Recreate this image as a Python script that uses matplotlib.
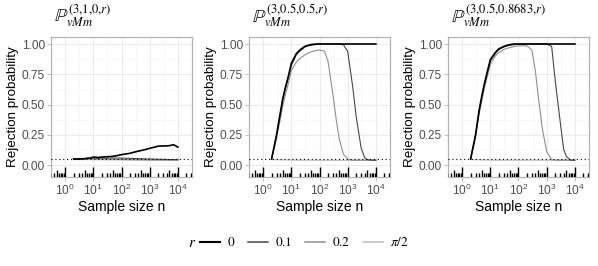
"""
Rejection probability curves for three vMm alternatives, ggplot light style.
"""

import matplotlib

matplotlib.use("Agg")
import matplotlib.pyplot as plt  # noqa: E402
from matplotlib.lines import Line2D  # noqa: E402

plt.rcParams["font.family"] = ["Liberation Sans", "DejaVu Sans"]
plt.rcParams["mathtext.fontset"] = "stix"

# sample sizes on the curves
N = [2, 3, 4, 5, 6, 8, 10, 15, 20, 30, 40, 50, 70, 100, 150, 200, 300, 400,
     500, 700, 1000, 1500, 2000, 3000, 4000, 5000, 7000, 10000]

R_LABELS = ["$0$", "$0.1$", "$0.2$", r"$\pi/2$"]
R_COLORS = ["#000000", "#474747", "#8f8f8f", "#bdbdbd"]
R_WIDTHS = [1.2, 0.8, 0.8, 0.8]

TITLES = [
    r"$\mathbb{P}^{(3{,}1{,}0{,}r)}_{vMm}$",
    r"$\mathbb{P}^{(3{,}0.5{,}0.5{,}r)}_{vMm}$",
    r"$\mathbb{P}^{(3{,}0.5{,}0.8683{,}r)}_{vMm}$",
]

# panel 1: (3,1,0,r)
p1_r0 = [0.050, 0.050, 0.051, 0.053, 0.056, 0.058, 0.066, 0.062, 0.066, 0.068,
         0.070, 0.072, 0.078, 0.086, 0.092, 0.097, 0.108, 0.115, 0.120, 0.128,
         0.138, 0.148, 0.156, 0.158, 0.158, 0.160, 0.168, 0.148]
p1_r01 = [0.050, 0.050, 0.052, 0.053, 0.055, 0.054, 0.058, 0.055, 0.057, 0.056,
          0.058, 0.057, 0.058, 0.057, 0.056, 0.055, 0.054, 0.053, 0.052, 0.051,
          0.050, 0.049, 0.048, 0.047, 0.046, 0.045, 0.045, 0.045]
p1_r02 = [0.048, 0.048, 0.049, 0.050, 0.049, 0.050, 0.050, 0.049, 0.048, 0.048,
          0.047, 0.047, 0.046, 0.046, 0.045, 0.045, 0.044, 0.044, 0.043, 0.043,
          0.042, 0.042, 0.042, 0.041, 0.041, 0.041, 0.041, 0.041]
p1_rpi = [0.045, 0.046, 0.045, 0.046, 0.045, 0.045, 0.044, 0.044, 0.044, 0.043,
          0.043, 0.043, 0.042, 0.042, 0.042, 0.041, 0.041, 0.041, 0.040, 0.040,
          0.040, 0.040, 0.040, 0.040, 0.040, 0.040, 0.040, 0.040]

# panel 2: (3,0.5,0.5,r)
p2_r0 = [0.05, 0.25, 0.42, 0.55, 0.63, 0.74, 0.84, 0.92, 0.95, 0.98, 0.99,
         0.995, 1.0, 1.0, 1.0, 1.0, 1.0, 1.0, 1.0, 1.0, 1.0, 1.0, 1.0, 1.0,
         1.0, 1.0, 1.0, 1.0]
p2_r01 = [0.05, 0.24, 0.41, 0.54, 0.62, 0.73, 0.82, 0.91, 0.94, 0.975, 0.985,
          0.99, 0.995, 1.0, 1.0, 1.0, 1.0, 1.0, 1.0, 0.995, 0.94, 0.65, 0.40,
          0.14, 0.06, 0.045, 0.04, 0.04]
p2_r02 = [0.05, 0.22, 0.37, 0.49, 0.57, 0.68, 0.78, 0.85, 0.88, 0.91, 0.925,
          0.935, 0.945, 0.95, 0.94, 0.86, 0.58, 0.36, 0.22, 0.09, 0.05, 0.04,
          0.04, 0.04, 0.04, 0.04, 0.04, 0.04]
p2_rpi = [0.045, 0.044, 0.043, 0.043, 0.042, 0.042, 0.041, 0.041, 0.040, 0.040,
          0.040, 0.040, 0.040, 0.039, 0.039, 0.039, 0.039, 0.039, 0.039, 0.039,
          0.039, 0.039, 0.039, 0.039, 0.039, 0.039, 0.039, 0.039]

# panel 3: (3,0.5,0.8683,r)
p3_r0 = [0.05, 0.25, 0.45, 0.57, 0.66, 0.78, 0.87, 0.93, 0.96, 0.98, 0.99,
         0.995, 1.0, 1.0, 1.0, 1.0, 1.0, 1.0, 1.0, 1.0, 1.0, 1.0, 1.0, 1.0,
         1.0, 1.0, 1.0, 1.0]
p3_r01 = [0.05, 0.24, 0.44, 0.56, 0.65, 0.77, 0.86, 0.92, 0.955, 0.975, 0.985,
          0.99, 0.995, 1.0, 1.0, 1.0, 1.0, 1.0, 1.0, 1.0, 1.0, 0.98, 0.70,
          0.36, 0.13, 0.07, 0.04, 0.04]
p3_r02 = [0.05, 0.23, 0.42, 0.53, 0.62, 0.74, 0.83, 0.90, 0.93, 0.955, 0.965,
          0.97, 0.98, 0.985, 0.985, 0.985, 0.95, 0.77, 0.57, 0.30, 0.11, 0.045,
          0.04, 0.04, 0.04, 0.04, 0.04, 0.04]
p3_rpi = [0.045, 0.044, 0.043, 0.042, 0.042, 0.041, 0.041, 0.040, 0.040, 0.040,
          0.040, 0.040, 0.040, 0.040, 0.040, 0.040, 0.040, 0.040, 0.040, 0.040,
          0.040, 0.040, 0.040, 0.040, 0.040, 0.040, 0.040, 0.040]

PANELS = [
    [p1_r0, p1_r01, p1_r02, p1_rpi],
    [p2_r0, p2_r01, p2_r02, p2_rpi],
    [p3_r0, p3_r01, p3_r02, p3_rpi],
]

ALPHA_LEVEL = 0.05
Y_TICKS = [0.0, 0.25, 0.5, 0.75, 1.0]
X_TICKS = [1, 10, 100, 1000, 10000]

GRID = "#ebebeb"
BORDER = "#b3b3b3"
TEXT = "#4d4d4d"


def _logticks(ax):
    # annotation_logticks-like marks along the bottom edge
    trans = ax.get_xaxis_transform()
    for dec in range(-1, 5):
        for k in range(1, 10):
            x = k * 10.0 ** dec
            if k == 1:
                h = 0.075
            elif k == 5:
                h = 0.05
            else:
                h = 0.028
            ax.plot([x, x], [0, h], transform=trans, color="black",
                    lw=1.0, solid_capstyle="butt", clip_on=True, zorder=4)


def _style(ax):
    ax.set_xscale("log")
    ax.set_xlim(10 ** -0.2, 10 ** 4.2)
    ax.set_ylim(-0.099, 1.058)
    ax.set_yticks(Y_TICKS, ["0.00", "0.25", "0.50", "0.75", "1.00"])
    ax.set_xticks(X_TICKS)
    ax.set_xticks([10 ** (d + 0.5) for d in range(-1, 5)], minor=True)
    ax.set_yticks([0.125, 0.375, 0.625, 0.875], minor=True)
    ax.tick_params(which="minor", length=0)
    ax.tick_params(which="major", length=3, width=0.6, color=BORDER,
                   labelsize=8.6, labelcolor=TEXT, pad=1.5)
    ax.grid(which="major", color=GRID, lw=0.8)
    ax.grid(which="minor", color="#f5f5f5", lw=0.5)
    ax.set_axisbelow(True)
    for sp in ax.spines.values():
        sp.set_color(BORDER)
        sp.set_linewidth(0.9)
    ax.set_xlabel("Sample size n", fontsize=10, labelpad=1)
    ax.set_ylabel("Rejection probability", fontsize=9.6, labelpad=2)


def main():
    fig = plt.figure(figsize=(5.98, 2.66), dpi=100)
    lefts = [51 / 598, 249 / 598, 448 / 598]
    width = 141 / 598
    bottom = (266 - 177) / 266
    height = 140 / 266

    for i, series in enumerate(PANELS):
        ax = fig.add_axes([lefts[i], bottom, width, height])
        _style(ax)
        for j in range(3, -1, -1):
            ax.plot(N, series[j], color=R_COLORS[j], lw=R_WIDTHS[j], zorder=3)
        ax.axhline(ALPHA_LEVEL, color="black", ls=(0, (1, 2.5)), lw=0.8,
                   zorder=3)
        _logticks(ax)
        ax.text(0.02, 1.05, TITLES[i], transform=ax.transAxes, fontsize=13,
                ha="left", va="bottom")

    handles = [Line2D([], [], color=c, lw=w + 0.3)
               for c, w in zip(R_COLORS, R_WIDTHS)]
    fig.legend(handles, R_LABELS, loc="center", bbox_to_anchor=(0.509, 0.0865),
               ncol=4, frameon=False, fontsize=9.5, handlelength=1.5,
               handletextpad=0.5, columnspacing=1.0)
    fig.text(192.5 / 598, 0.0865, "$r$", fontsize=11, ha="center",
             va="center")

    fig.savefig("out.png", dpi=100)
    plt.close(fig)


if __name__ == "__main__":
    main()
